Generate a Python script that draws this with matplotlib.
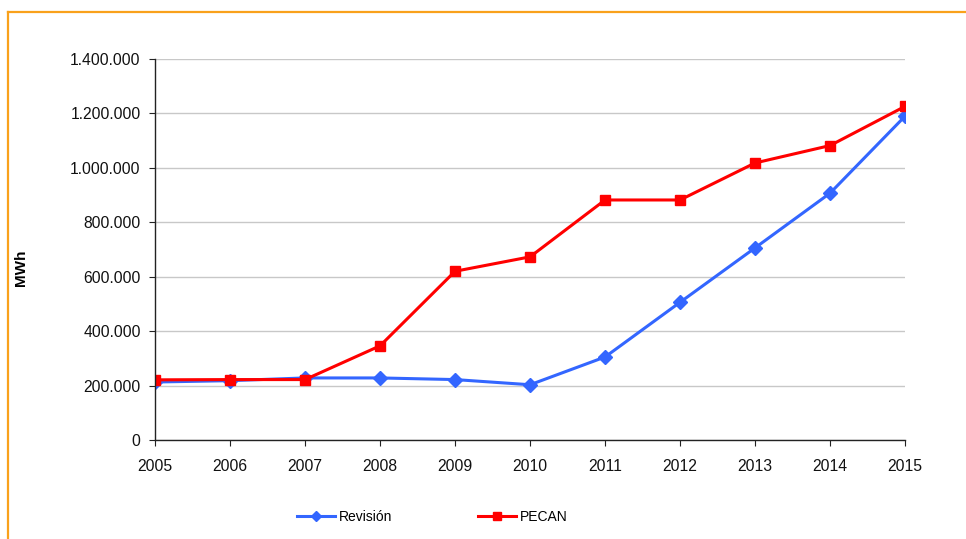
import numpy as np
import matplotlib
matplotlib.use("Agg")
import matplotlib.pyplot as plt
from matplotlib.lines import Line2D
from matplotlib.ticker import FuncFormatter

plt.rcParams['font.family'] = ['Liberation Sans', 'DejaVu Sans']

years = [2005, 2006, 2007, 2008, 2009, 2010, 2011, 2012, 2013, 2014, 2015]
revision = [213000, 218000, 228000, 228000, 222000, 203000, 305000, 506000, 706000, 907000, 1190000]
pecan = [221000, 222000, 222000, 346000, 620000, 673000, 882000, 882000, 1018000, 1082000, 1226000]
y_ticks = [0, 200000, 400000, 600000, 800000, 1000000, 1200000, 1400000]


def _miles(v, pos):
    return "{:,.0f}".format(v).replace(",", ".")


fig = plt.figure(figsize=(9.66, 5.39), dpi=100)
ax = fig.add_axes([0.1605, 0.1837, 0.7764, 0.7068])

ax.plot(years, revision, color="#3366FF", lw=2.2, marker="D", ms=6.8, label="Revisión")
ax.plot(years, pecan, color="#FF0000", lw=2.2, marker="s", ms=7.5, label="PECAN")

ax.set_xlim(2005, 2015)
ax.set_ylim(0, 1400000)
ax.set_xticks(years)
ax.set_yticks(y_ticks)
ax.yaxis.set_major_formatter(FuncFormatter(_miles))
ax.grid(axis="y", color="#C8C8C8", lw=1)
ax.set_axisbelow(True)
for s in ["top", "right"]:
    ax.spines[s].set_visible(False)
for s in ["left", "bottom"]:
    ax.spines[s].set_color("#222222")
    ax.spines[s].set_linewidth(1)
ax.tick_params(axis="both", labelsize=11.3, length=4.3, color="#222222",
               labelcolor="#111111", direction="out")
ax.tick_params(axis="y", pad=6)
ax.tick_params(axis="x", pad=9.5)
for lbl in ax.get_xticklabels():
    lbl.set_clip_on(False)

fig.text(21 / 966, 1 - 268 / 539, "MWh", rotation=90, fontsize=11, fontweight="bold",
         ha="center", va="center")

fig.legend(loc="center left", bbox_to_anchor=(297 / 966, 1 - 517 / 539), ncol=2,
           frameon=False, fontsize=10, handlelength=2.75, handletextpad=0.25,
           columnspacing=6.2, borderpad=0, borderaxespad=0, markerscale=0.7)

# orange frame around the chart area (clipped by the page edge)
frame_c = "#F9A11B"
fig.add_artist(Line2D([7.5 / 966, 7.5 / 966], [0, 1 - 11.5 / 539], color=frame_c, lw=1.6))
fig.add_artist(Line2D([7.5 / 966, 1], [1 - 11.5 / 539, 1 - 11.5 / 539], color=frame_c, lw=1.6))

fig.savefig("out.png", dpi=100)
